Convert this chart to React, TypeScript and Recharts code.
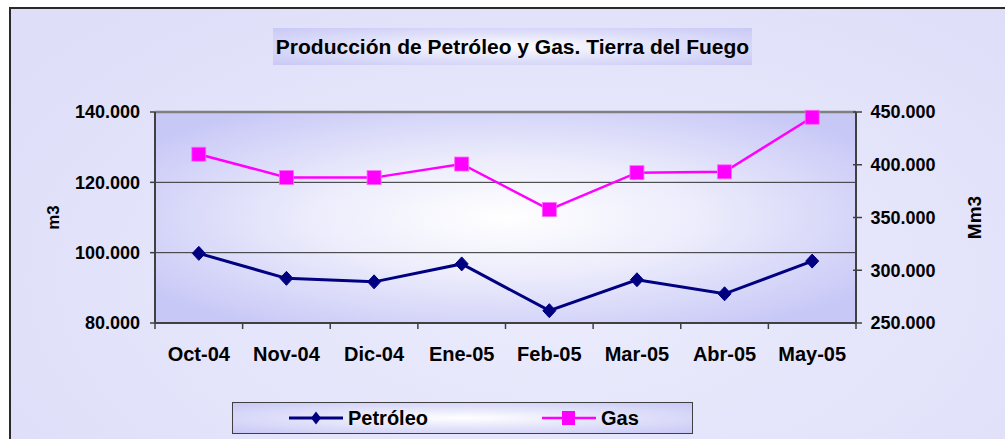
import React from 'react';
import { LineChart, Line, XAxis, YAxis, CartesianGrid, Legend, ReferenceLine } from 'recharts';

const categories = ['Oct-04', 'Nov-04', 'Dic-04', 'Ene-05', 'Feb-05', 'Mar-05', 'Abr-05', 'May-05'];
const petroleo = [99800, 92700, 91700, 96800, 83500, 92300, 88300, 97600];
const gas = [410000, 388000, 387800, 400700, 357500, 392500, 393300, 445000];
const leftTicks = [80000, 100000, 120000, 140000];
const rightTicks = [250000, 300000, 350000, 400000, 450000];
const seriesNames = ['Petróleo', 'Gas'];
const title = 'Producción de Petróleo y Gas. Tierra del Fuego';
const leftUnit = 'm3';
const rightUnit = 'Mm3';

const data = categories.map((month, i) => ({
  x: i + 0.5,
  month,
  petroleo: petroleo[i],
  gas: gas[i],
}));

const xTicks: number[] = [];
categories.forEach((_, i) => {
  xTicks.push(i, i + 0.5);
});
xTicks.push(categories.length);

const FONT = '"Liberation Sans", Arial, sans-serif';
const NAVY = '#000080';
const MAGENTA = '#ff00ff';
const AXIS = '#404040';

const fmt = (v: number) => String(v).replace(/\B(?=(\d{3})+(?!\d))/g, '.');

const XTick = (props: any) => {
  const { x, y, payload } = props;
  const v = payload.value as number;
  if (Number.isInteger(v)) {
    return <line x1={x} x2={x} y1={y} y2={y + 6} stroke={AXIS} strokeWidth={1.5} />;
  }
  return (
    <text x={x} y={y + 38} textAnchor="middle" fontFamily={FONT} fontWeight="bold" fontSize={20} fill="#000">
      {categories[Math.floor(v)]}
    </text>
  );
};

const RightTick = (props: any) => {
  const { x, y, payload } = props;
  return (
    <g>
      <line x1={x - 3} x2={x + 6} y1={y} y2={y} stroke={AXIS} strokeWidth={1.5} />
      <text x={x + 14.5} y={y} dy="0.36em" textAnchor="start" fontFamily={FONT} fontWeight="bold" fontSize={18} fill="#000">
        {fmt(payload.value)}
      </text>
    </g>
  );
};

const Diamond = (props: any) => {
  const { cx, cy, index } = props;
  if (cx == null || cy == null) return null;
  return (
    <polygon
      key={`d${index}`}
      points={`${cx},${cy - 7} ${cx + 6.5},${cy} ${cx},${cy + 7} ${cx - 6.5},${cy}`}
      fill={NAVY}
      stroke={NAVY}
      strokeWidth={1}
    />
  );
};

const Square = (props: any) => {
  const { cx, cy, index } = props;
  if (cx == null || cy == null) return null;
  return <rect key={`s${index}`} x={cx - 7} y={cy - 7} width={14} height={14} fill={MAGENTA} stroke="#ff66ff" strokeWidth={0.8} />;
};

const LegendContent = (props: any) => {
  const payload = [...(props.payload || [])].sort(
    (a: any, b: any) => seriesNames.indexOf(a.value) - seriesNames.indexOf(b.value)
  );
  return (
    <div
      style={{
        position: 'relative',
        width: 461,
        height: 32,
        boxSizing: 'border-box',
        border: '1.5px solid #404040',
        background: 'radial-gradient(ellipse at 50% 50%, #ffffff 0%, #e4e4fb 45%, #c8c8f6 100%)',
        fontFamily: FONT,
      }}
    >
      {payload.map((entry: any, i: number) => {
        const left = 55 + i * 253;
        const isDiamond = entry.dataKey === 'petroleo';
        return (
          <div key={entry.value} style={{ position: 'absolute', left, top: 0, height: 30, width: 200 }}>
            <svg width={56} height={30} style={{ position: 'absolute', left: 0, top: 0 }}>
              <line x1={1} x2={55} y1={15} y2={15} stroke={entry.color} strokeWidth={isDiamond ? 3 : 2.5} />
              {isDiamond ? (
                <polygon points="28,8.5 33,15 28,21.5 23,15" fill={NAVY} />
              ) : (
                <rect x={21} y={8} width={13} height={14} fill={MAGENTA} />
              )}
            </svg>
            <span
              style={{
                position: 'absolute',
                left: 60,
                top: 3,
                fontSize: 20,
                fontWeight: 'bold',
                color: '#000',
                lineHeight: '24px',
                whiteSpace: 'nowrap',
              }}
            >
              {entry.value}
            </span>
          </div>
        );
      })}
    </div>
  );
};

export default function App() {
  return (
    <div style={{ position: 'absolute', left: 0, top: 0, width: 1005, height: 439, overflow: 'hidden', background: '#ffffff' }}>
      <div
        style={{
          position: 'absolute',
          left: 9,
          top: 7,
          width: 1100,
          height: 600,
          border: '2px solid #2a2a2a',
          background: 'radial-gradient(ellipse 60% 60% at 50% 45%, #ececfd 0%, #e5e5fb 50%, #dedef9 100%)',
        }}
      />
      <div
        style={{
          position: 'absolute',
          left: 273,
          top: 28,
          width: 479,
          height: 37,
          background: 'radial-gradient(ellipse at 50% 50%, #ffffff 0%, #e0e0fa 50%, #c8c8f6 100%)',
          fontFamily: FONT,
          fontWeight: 'bold',
          fontSize: 21,
          lineHeight: '37px',
          textAlign: 'center',
          color: '#000',
          whiteSpace: 'nowrap',
        }}
      >
        {title}
      </div>
      <div style={{ position: 'absolute', left: 0, top: 0 }}>
        <LineChart width={1005} height={439} data={data} margin={{ top: 112, right: 0, bottom: 76, left: 0 }}>
          <defs>
            <radialGradient id="plotBg" cx="0.5" cy="0.5" r="0.62">
              <stop offset="0%" stopColor="#ffffff" />
              <stop offset="45%" stopColor="#ececfc" />
              <stop offset="100%" stopColor="#c8c8f7" />
            </radialGradient>
          </defs>
          <CartesianGrid
            yAxisId="left"
            vertical={false}
            horizontalValues={[100000, 120000]}
            stroke="#303030"
            strokeWidth={1}
            fill="url(#plotBg)"
            fillOpacity={1}
          />
          <ReferenceLine yAxisId="left" y={140000} stroke="#808080" strokeWidth={2.5} />
          <XAxis
            dataKey="x"
            type="number"
            domain={[0, categories.length]}
            ticks={xTicks}
            interval={0}
            tickSize={0}
            tickMargin={0}
            tick={<XTick />}
            tickLine={false}
            axisLine={{ stroke: AXIS, strokeWidth: 2 }}
            height={40}
            allowDecimals
          />
          <YAxis
            yAxisId="left"
            orientation="left"
            domain={[80000, 140000]}
            ticks={leftTicks}
            interval={0}
            width={155}
            tickSize={5}
            tickMargin={10}
            tickFormatter={fmt}
            tick={{ fontFamily: FONT, fontWeight: 'bold', fontSize: 18, fill: '#000' }}
            tickLine={{ stroke: AXIS, strokeWidth: 1.5 }}
            axisLine={{ stroke: AXIS, strokeWidth: 2 }}
            label={{
              value: leftUnit,
              angle: -90,
              position: 'insideLeft',
              offset: 53,
              style: { textAnchor: 'middle', fontFamily: FONT, fontWeight: 'bold', fontSize: 17, fill: '#000' },
            }}
          />
          <YAxis
            yAxisId="right"
            orientation="right"
            domain={[250000, 450000]}
            ticks={rightTicks}
            interval={0}
            width={149}
            tickSize={0}
            tickMargin={0}
            tick={<RightTick />}
            tickLine={false}
            axisLine={{ stroke: AXIS, strokeWidth: 2 }}
            label={{
              value: rightUnit,
              angle: -90,
              position: 'insideRight',
              offset: 31,
              style: { textAnchor: 'middle', fontFamily: FONT, fontWeight: 'bold', fontSize: 19, fill: '#000' },
            }}
          />
          <Line
            yAxisId="left"
            type="linear"
            dataKey="petroleo"
            name={seriesNames[0]}
            stroke={NAVY}
            strokeWidth={3}
            dot={<Diamond />}
            activeDot={false}
            isAnimationActive={false}
          />
          <Line
            yAxisId="right"
            type="linear"
            dataKey="gas"
            name={seriesNames[1]}
            stroke={MAGENTA}
            strokeWidth={2.5}
            dot={<Square />}
            activeDot={false}
            isAnimationActive={false}
          />
          <Legend
            layout="horizontal"
            verticalAlign="middle"
            align="center"
            content={<LegendContent />}
            wrapperStyle={{ left: 232, top: 402, width: 461, height: 32 }}
          />
        </LineChart>
      </div>
    </div>
  );
}
